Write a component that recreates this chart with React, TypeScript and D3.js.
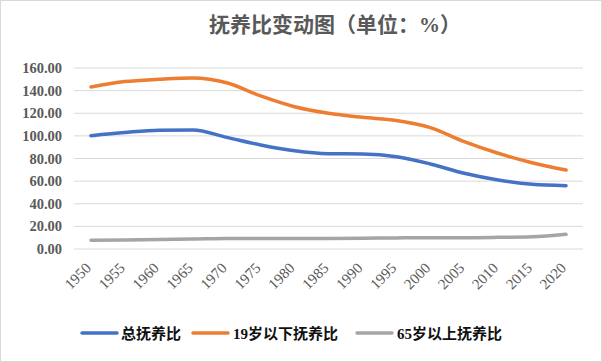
import React from 'react'
import * as d3 from 'd3'

const years = ['1950', '1955', '1960', '1965', '1970', '1975', '1980', '1985', '1990', '1995', '2000', '2005', '2010', '2015', '2020']
const totalRatio = [100.2, 103, 105, 105.2, 98.7, 92, 86.9, 84.3, 84, 81.6, 75.2, 66.9, 61, 57.2, 56]
const youngRatio = [143.2, 148, 150, 151.2, 147, 135.3, 125.8, 120, 116.4, 113.5, 107.3, 94.9, 84.6, 76.3, 69.8]
const oldRatio = [7.8, 8, 8.5, 8.8, 9.2, 9.2, 9.2, 9.3, 9.5, 9.8, 10, 10, 10.3, 10.8, 13]
const yTicks = [0, 20, 40, 60, 80, 100, 120, 140, 160]

const seriesNames = ['总抚养比', '19岁以下抚养比', '65岁以上抚养比']
const seriesColors = ['#4472C4', '#ED7D31', '#A5A5A5']

const width = 602
const height = 362
const plot = { left: 74, right: 583, top: 68, bottom: 249 }

const serifFont = '"Liberation Serif", "DejaVu Serif", "Times New Roman", "Noto Sans CJK SC", serif'

export default function App() {
  const x = d3.scaleBand().domain(years).range([plot.left, plot.right])
  const y = d3.scaleLinear().domain([0, 160]).range([plot.bottom, plot.top])

  const line = d3
    .line<number>()
    .x((_, i) => (x(years[i]) as number) + x.bandwidth() / 2)
    .y((d) => y(d))
    .curve(d3.curveMonotoneX)

  const allSeries = [totalRatio, youngRatio, oldRatio]

  // legend items: line sample then label
  const legendItems = [
    { lx: 82, tx: 121 },
    { lx: 193, tx: 233 },
    { lx: 357, tx: 397 },
  ]

  return (
    <svg width={width} height={height} style={{ position: 'absolute', left: 0, top: 0, background: '#fff' }}>
      <rect x={0.5} y={0.5} width={width - 1} height={height - 1} fill="#fff" stroke="#d9d9d9" />
      <text
        x={335}
        y={32}
        textAnchor="middle"
        style={{ fontFamily: serifFont, fontWeight: 700, fontSize: '21px', fill: '#595959' }}
      >
        抚养比变动图（单位：%）
      </text>
      {yTicks.map((t) => (
        <g key={'tick-' + t}>
          <line x1={plot.left} x2={plot.right} y1={y(t)} y2={y(t)} stroke="#d9d9d9" strokeWidth={1} />
          <text
            x={62}
            y={y(t) + 5}
            textAnchor="end"
            style={{ fontFamily: serifFont, fontWeight: 700, fontSize: '14.5px', fill: '#595959' }}
          >
            {t.toFixed(2)}
          </text>
        </g>
      ))}
      {years.map((yr) => {
        const cx = (x(yr) as number) + x.bandwidth() / 2
        return (
          <text
            key={'year-' + yr}
            transform={`translate(${cx + 1},${plot.bottom + 20}) rotate(-45)`}
            textAnchor="end"
            style={{ fontFamily: serifFont, fontSize: '15px', fill: '#595959' }}
          >
            {yr}
          </text>
        )
      })}
      {allSeries.map((s, i) => (
        <path
          key={'line-' + i}
          d={line(s) || ''}
          fill="none"
          stroke={seriesColors[i]}
          strokeWidth={3.5}
          strokeLinecap="round"
          strokeLinejoin="round"
        />
      ))}
      {seriesNames.map((name, i) => (
        <g key={'legend-' + name}>
          <line
            x1={legendItems[i].lx}
            x2={legendItems[i].lx + 35}
            y1={333}
            y2={333}
            stroke={seriesColors[i]}
            strokeWidth={3.5}
            strokeLinecap="round"
          />
          <text
            x={legendItems[i].tx}
            y={338.5}
            style={{ fontFamily: serifFont, fontWeight: 700, fontSize: '15px', fill: '#111' }}
          >
            {name}
          </text>
        </g>
      ))}
    </svg>
  )
}
